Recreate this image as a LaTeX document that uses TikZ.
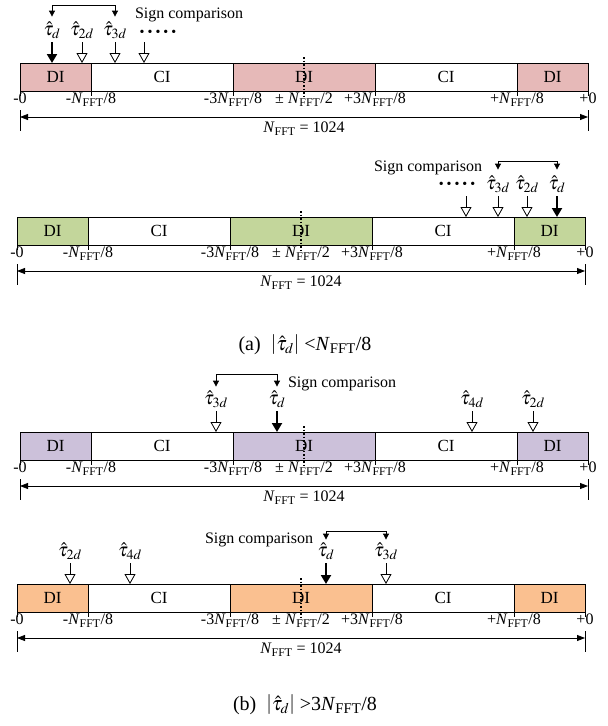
\documentclass[tikz,border=0pt]{standalone}
\usepackage{mathptmx}
\usepackage{fontspec}
\setmainfont{Liberation Serif}
\usetikzlibrary{positioning, arrows.meta}
\definecolor{diPink}{RGB}{230,185,184}
\definecolor{diGreen}{RGB}{195,214,155}
\definecolor{diPurple}{RGB}{204,193,218}
\definecolor{diOrange}{RGB}{250,192,144}

\newcommand{\NF}{\textit{N}\textsubscript{FFT}}
\newcommand{\dotrow}{\textbullet\hspace{3pt}\textbullet\hspace{3pt}\textbullet\hspace{3pt}\textbullet\hspace{3pt}\textbullet}
% one FFT window: DI | CI | DI | CI | DI, tick labels and the span arrow
\newcommand{\timebar}[4]{%
  \node[seg, fill=#4, anchor=north west] (#1a) at (#2,#3) {DI};
  \node[seg, wide, right=0pt of #1a] (#1b) {CI};
  \node[seg, wide, fill=#4, right=0pt of #1b] (#1c) {DI};
  \node[seg, wide, right=0pt of #1c] (#1d) {CI};
  \node[seg, fill=#4, right=0pt of #1d] (#1e) {DI};
  \draw[dotln] ([yshift=6pt]#1c.north) -- ([yshift=-7pt]#1c.south);
  \foreach \p in {#1a.south west, #1b.south west, #1c.south west, #1d.south west, #1e.south west, #1e.south east}
    \draw[line width=1pt] (\p) -- ([yshift=-5pt]\p);
  \node[lab] (#1l0) at (#1a.south west) {-0};
  \node[lab] (#1l1) at (#1b.south west) {-\NF/8};
  \node[lab] (#1l2) at (#1c.south west) {-3\NF/8};
  \node[lab] (#1l3) at (#1c.south) {± \NF/2};
  \node[lab] (#1l4) at (#1d.south west) {+3\NF/8};
  \node[lab] (#1l5) at (#1e.south west) {+\NF/8};
  \node[lab] (#1l6) at (#1e.south east) {+0};
  \coordinate (#1s0) at ([yshift=-26pt]#1a.south west);
  \coordinate (#1s1) at ([yshift=-26pt]#1e.south east);
  \draw[span] (#1s0) -- (#1s1);
  \draw ([yshift=-19pt]#1a.south west) -- ([yshift=-40pt]#1a.south west);
  \draw ([yshift=-19pt]#1e.south east) -- ([yshift=-40pt]#1e.south east);
  \node[lab] (#1n) at ([yshift=-29pt]#1c.south) {\NF{} = 1024};
}

\begin{document}
\begin{tikzpicture}[x=1pt, y=-1pt,
    font=\fontsize{16}{19}\selectfont,
    seg/.style={draw, line width=1pt, minimum width=71pt, minimum height=28pt,
                inner sep=0pt, outer sep=0pt, font=\fontsize{17}{20}\selectfont},
    wide/.style={minimum width=142pt},
    lab/.style={anchor=north, inner sep=1pt, yshift=-1pt},
    tau/.style={anchor=south, inner sep=1pt, text height=14pt, text depth=5pt,
                font=\fontsize{19}{22}\selectfont},
    hit/.style={line width=2pt, -{Triangle[length=9pt, width=10pt]}},
    probe/.style={line width=0.8pt, -{Triangle[open, length=10pt, width=11pt]}},
    cmp/.style={line width=0.8pt, {Triangle[length=6pt, width=6pt]}-{Triangle[length=6pt, width=6pt]}},
    span/.style={line width=0.8pt, {Triangle[length=8pt, width=6pt]}-{Triangle[length=8pt, width=6pt]}},
    dotln/.style={line width=1.2pt, dash pattern=on 1.5pt off 2pt},
    captxt/.style={inner sep=2pt, font=\fontsize{20}{24}\selectfont},
  ]
  \useasboundingbox (0,0) rectangle (608,726);

  % (a) first window
  \timebar{p}{20}{63}{diPink}
  \node[tau] (ptd) at (52,42) {$\hat{\tau}_d$};
  \node[tau] (pt2d) at (82,42) {$\hat{\tau}_{2d}$};
  \node[tau] (pt3d) at (115,42) {$\hat{\tau}_{3d}$};
  \node[inner sep=0pt] (pdots) at (158,33) {\fontsize{14}{14}\selectfont\dotrow};
  \coordinate (pdarr) at (144,42);
  \node (psign) at (189,15) {Sign comparison};
  \draw[hit] (ptd) -- (ptd |- pa.north);
  \draw[probe] (pt2d) -- (pt2d |- pa.north);
  \draw[probe] (pt3d) -- (pt3d |- pb.north);
  \draw[probe] (pdarr) -- (pdarr |- pb.north);
  \draw[cmp] ([yshift=4pt]ptd.north) -- ++(0,-11) -| ([yshift=4pt]pt3d.north);

  % (a) second window
  \timebar{g}{17}{217}{diGreen}
  \node[tau] (gt3d) at (498,196) {$\hat{\tau}_{3d}$};
  \node[tau] (gt2d) at (527,196) {$\hat{\tau}_{2d}$};
  \node[tau] (gtd) at (557,196) {$\hat{\tau}_d$};
  \node[inner sep=0pt] (gdots) at (457,185) {\fontsize{14}{14}\selectfont\dotrow};
  \coordinate (gdarr) at (466,196);
  \node (gsign) at (428,168) {Sign comparison};
  \draw[hit] (gtd) -- (gtd |- ge.north);
  \draw[probe] (gt2d) -- (gt2d |- ge.north);
  \draw[probe] (gt3d) -- (gt3d |- gd.north);
  \draw[probe] (gdarr) -- (gdarr |- gd.north);
  \draw[cmp] ([yshift=5pt]gt3d.north) -- ++(0,-8) -| ([yshift=5pt]gtd.north);

  \node[captxt] (capa) at (305,345) {(a)\ \ $\left|\hat{\tau}_d\right|$ \textless\NF/8};

  % (b) first window
  \timebar{v}{20}{432}{diPurple}
  \node[tau] (vt3d) at (216,411) {$\hat{\tau}_{3d}$};
  \node[tau] (vtd) at (277,411) {$\hat{\tau}_d$};
  \node[tau] (vt4d) at (472,411) {$\hat{\tau}_{4d}$};
  \node[tau] (vt2d) at (533,411) {$\hat{\tau}_{2d}$};
  \node (vsign) at (342,384) {Sign comparison};
  \draw[probe] (vt3d) -- (vt3d |- vb.north);
  \draw[hit] (vtd) -- (vtd |- vc.north);
  \draw[probe] (vt4d) -- (vt4d |- vd.north);
  \draw[probe] (vt2d) -- (vt2d |- ve.north);
  \draw[cmp] ([yshift=3pt]vt3d.north) -- ++(0,-12) -| ([yshift=3pt]vtd.north);

  % (b) second window
  \timebar{o}{17}{584}{diOrange}
  \node[tau] (ot2d) at (70,563) {$\hat{\tau}_{2d}$};
  \node[tau] (ot4d) at (130,563) {$\hat{\tau}_{4d}$};
  \node[tau] (otd) at (326,563) {$\hat{\tau}_d$};
  \node[tau] (ot3d) at (386,563) {$\hat{\tau}_{3d}$};
  \node (osign) at (259,540) {Sign comparison};
  \draw[probe] (ot2d) -- (ot2d |- oa.north);
  \draw[probe] (ot4d) -- (ot4d |- ob.north);
  \draw[hit] (otd) -- (otd |- oc.north);
  \draw[probe] (ot3d) -- (ot3d |- od.north);
  \draw[cmp] ([yshift=2pt]otd.north) -- ++(0,-8) -| ([yshift=2pt]ot3d.north);

  \node[captxt] (capb) at (305,705) {(b)\ \ $\left|\hat{\tau}_d\right|$ \textgreater 3\NF/8};
\end{tikzpicture}
\end{document}
